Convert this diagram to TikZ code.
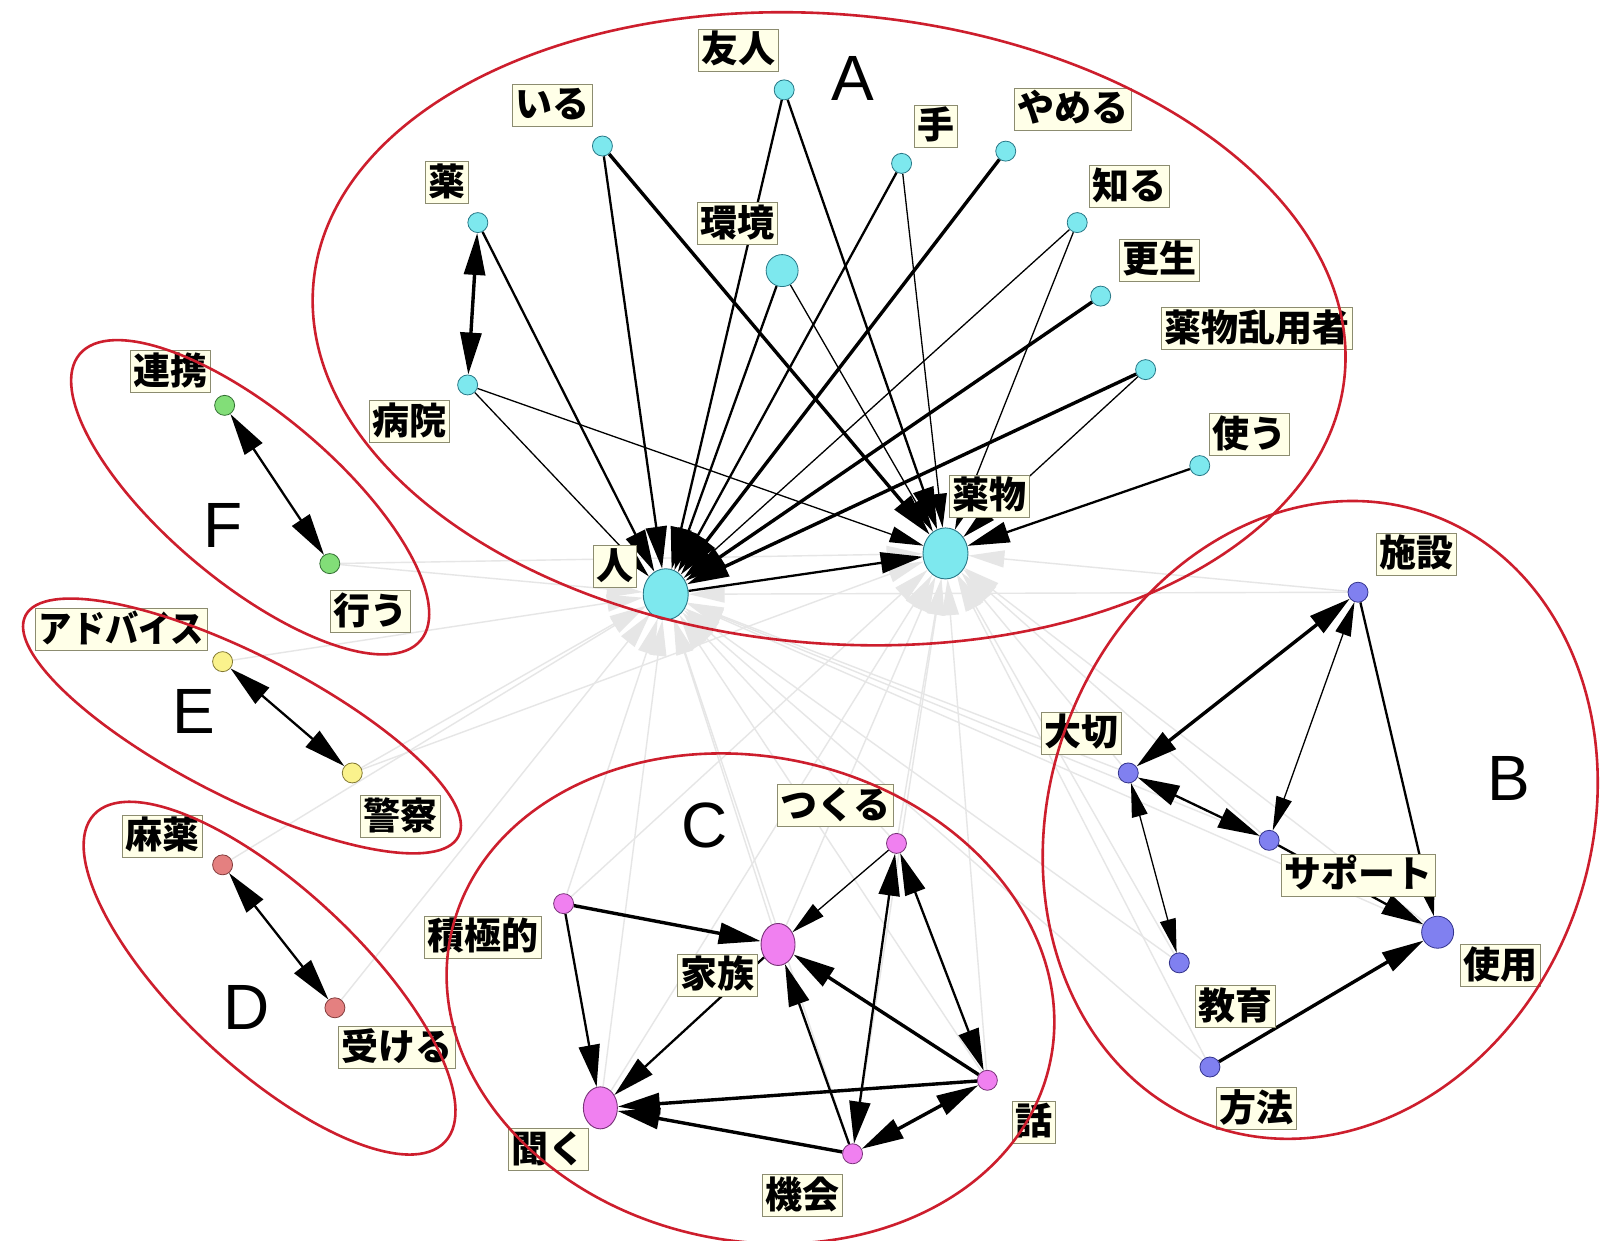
\documentclass[tikz,border=0pt]{standalone}
\usepackage{fontspec}
\setmainfont{Liberation Sans}
\newfontfamily\jp{Noto Sans CJK JP}
\usetikzlibrary{arrows.meta,shapes.geometric}

\pgfdeclarelayer{paper}
\pgfdeclarelayer{faint}
\pgfdeclarelayer{links}
\pgfdeclarelayer{rings}
\pgfsetlayers{paper,faint,links,main,rings}

\definecolor{ringred}{RGB}{205,30,45}
\definecolor{faintgray}{RGB}{230,230,230}
\definecolor{tagfill}{RGB}{255,255,232}
\definecolor{tagline}{RGB}{140,140,112}
\definecolor{cyanfill}{RGB}{125,232,238}
\definecolor{cyanline}{RGB}{40,120,135}
\definecolor{bluefill}{RGB}{128,128,240}
\definecolor{blueline}{RGB}{50,50,140}
\definecolor{pinkfill}{RGB}{240,128,240}
\definecolor{pinkline}{RGB}{120,50,120}
\definecolor{salmfill}{RGB}{228,128,128}
\definecolor{salmline}{RGB}{130,60,60}
\definecolor{yelfill}{RGB}{250,242,140}
\definecolor{yelline}{RGB}{130,120,50}
\definecolor{grnfill}{RGB}{130,222,120}
\definecolor{grnline}{RGB}{50,110,50}

\begin{document}
\begin{tikzpicture}[x=1.0211pt,y=-1.0211pt,
  vtx/.style={circle,inner sep=0pt,minimum size=20pt,line width=0.8pt},
  bigvtx/.style={ellipse,inner sep=0pt,minimum width=45pt,minimum height=51pt,line width=0.9pt},
  midvtx/.style={ellipse,inner sep=0pt,minimum width=34pt,minimum height=42pt,line width=0.9pt},
  va/.style={vtx,fill=cyanfill,draw=cyanline},
  vb/.style={vtx,fill=bluefill,draw=blueline},
  vc/.style={vtx,fill=pinkfill,draw=pinkline},
  vd/.style={vtx,fill=salmfill,draw=salmline},
  ve/.style={vtx,fill=yelfill,draw=yelline},
  vf/.style={vtx,fill=grnfill,draw=grnline},
  tag/.style={draw=tagline,fill=tagfill,line width=1pt,inner xsep=3pt,inner ysep=2.5pt,
    font=\jp\bfseries\fontsize{37}{37}\selectfont,text height=31pt,text depth=6pt},
  grp/.style={font=\fontsize{64}{64}\selectfont,inner sep=0pt},
  ring/.style={draw=ringred,line width=2.6pt},
  wthin/.style={draw=black,line width=1.3pt},
  wmid/.style={draw=black,line width=2.3pt},
  wthick/.style={draw=black,line width=3.4pt},
  arw/.style={-{Triangle[length=42pt,width=21pt]}},
  arws/.style={-{Triangle[length=34pt,width=16pt]}},
  arw2/.style={{Triangle[length=42pt,width=21pt]}-{Triangle[length=42pt,width=21pt]}},
  arw2s/.style={{Triangle[length=34pt,width=16pt]}-{Triangle[length=34pt,width=16pt]}},
  fedge/.style={draw=faintgray,line width=1.4pt,-{Triangle[length=36pt,width=17pt]}}
]
\useasboundingbox (0,0) rectangle (1568,1215);
\begin{pgfonlayer}{paper}
\fill[white] (0,0) rectangle (1568,1215);
\end{pgfonlayer}

% ---- cluster A: vertices ----
\node[va] (yujin) at (768,88) {};
\node[va] (iru) at (590,143) {};
\node[va] (kusuri) at (468,218) {};
\node[va,minimum size=32pt] (kankyo) at (766,265) {};
\node[va] (byoin) at (458,377) {};
\node[va] (te) at (883,160) {};
\node[va] (yameru) at (985,148) {};
\node[va] (shiru) at (1055,218) {};
\node[va] (kosei) at (1078,290) {};
\node[va] (ranyo) at (1122,362) {};
\node[va] (tsukau) at (1175,456) {};
\node[bigvtx,fill=cyanfill,draw=cyanline] (hito) at (652,582) {};
\node[bigvtx,fill=cyanfill,draw=cyanline] (yakubutsu) at (926,542) {};

% ---- cluster B ----
\node[vb] (shisetsu) at (1330,580) {};
\node[vb] (taisetsu) at (1105,757) {};
\node[vb] (support) at (1243,823) {};
\node[vb,minimum size=32pt] (shiyo) at (1408,913) {};
\node[vb] (kyoiku) at (1155,943) {};
\node[vb] (hoho) at (1185,1045) {};

% ---- cluster C ----
\node[vc] (tsukuru) at (878,826) {};
\node[vc] (sekkyoku) at (552,885) {};
\node[midvtx,fill=pinkfill,draw=pinkline] (kazoku) at (762,925) {};
\node[midvtx,fill=pinkfill,draw=pinkline] (kiku) at (588,1085) {};
\node[vc] (hanashi) at (967,1058) {};
\node[vc] (kikai) at (835,1130) {};

% ---- clusters D, E, F ----
\node[vd] (mayaku) at (218,847) {};
\node[vd] (ukeru) at (328,987) {};
\node[ve] (advice) at (218,648) {};
\node[ve] (keisatsu) at (345,757) {};
\node[vf] (renkei) at (220,397) {};
\node[vf] (okonau) at (323,552) {};

% ---- faint links into the two hubs ----
\begin{pgfonlayer}{faint}
\foreach \s in {kiku,kazoku,sekkyoku,kikai,hanashi,tsukuru,taisetsu,support,kyoiku,hoho,shiyo,shisetsu,keisatsu,ukeru,okonau,mayaku,advice}
  \draw[fedge] (\s) -- (hito);
\foreach \s in {kiku,kazoku,kikai,hanashi,tsukuru,taisetsu,support,shisetsu,shiyo,kyoiku,hoho,sekkyoku,okonau,keisatsu}
  \draw[fedge] (\s) -- (yakubutsu);
\end{pgfonlayer}

% ---- black links ----
\begin{pgfonlayer}{links}
% A
\draw[wthick,arw2] (kusuri) -- (byoin);
\draw[wmid,arw] (kusuri) -- (hito);
\draw[wthin,arws] (byoin) -- (hito);
\draw[wthin,arws] (byoin) -- (yakubutsu);
\draw[wmid,arw] (iru) -- (hito);
\draw[wthick,arw] (iru) -- (yakubutsu);
\draw[wmid,arw] (yujin) -- (hito);
\draw[wmid,arw] (yujin) -- (yakubutsu);
\draw[wmid,arw] (kankyo) -- (hito);
\draw[wthin,arws] (kankyo) -- (yakubutsu);
\draw[wmid,arw] (te) -- (hito);
\draw[wthin,arws] (te) -- (yakubutsu);
\draw[wthick,arw] (yameru) -- (hito);
\draw[wthin,arws] (shiru) -- (hito);
\draw[wthin,arws] (shiru) -- (yakubutsu);
\draw[wthick,arw] (kosei) -- (hito);
\draw[wthick,arw] (ranyo) -- (hito);
\draw[wthin,arws] (ranyo) -- (yakubutsu);
\draw[wmid,arw] (tsukau) -- (yakubutsu);
\draw[wmid,arw] (hito) -- (yakubutsu);
% B
\draw[wthick,arw2] (shisetsu) -- (taisetsu);
\draw[wthin,arw2s] (shisetsu) -- (support);
\draw[wmid,arw] (shisetsu) -- (shiyo);
\draw[wmid,arw2] (taisetsu) -- (support);
\draw[wthin,arw2s] (taisetsu) -- (kyoiku);
\draw[wmid,arw] (support) -- (shiyo);
\draw[wthick,arw] (hoho) -- (shiyo);
% C
\draw[wthick,arw] (sekkyoku) -- (kazoku);
\draw[wmid,arw] (sekkyoku) -- (kiku);
\draw[wthin,arws] (tsukuru) -- (kazoku);
\draw[wmid,arw] (kazoku) -- (kiku);
\draw[wthick,arw] (hanashi) -- (kazoku);
\draw[wmid,arw] (kikai) -- (kazoku);
\draw[wthick,arw] (hanashi) -- (kiku);
\draw[wthick,arw] (kikai) -- (kiku);
\draw[wthick,arw2] (kikai) -- (hanashi);
\draw[wmid,arw2] (tsukuru) -- (kikai);
\draw[wmid,arw2] (tsukuru) -- (hanashi);
% D, E, F
\draw[wmid,arw2] (mayaku) -- (ukeru);
\draw[wmid,arw2] (advice) -- (keisatsu);
\draw[wmid,arw2] (renkei) -- (okonau);
\end{pgfonlayer}

% ---- word tags ----
\node[tag] (t-yujin) at (723.5,49) {友人};
\node[tag] (t-iru) at (541.5,103) {いる};
\node[tag] (t-kusuri) at (437.5,179) {薬};
\node[tag] (t-kankyo) at (722.5,219) {環境};
\node[tag] (t-byoin) at (401.5,413) {病院};
\node[tag] (t-te) at (916.5,123.5) {手};
\node[tag] (t-yameru) at (1051,107) {やめる};
\node[tag] (t-shiru) at (1106,183) {知る};
\node[tag] (t-kosei) at (1136,255) {更生};
\node[tag] (t-ranyo) at (1231.5,322) {薬物乱用者};
\node[tag] (t-tsukau) at (1224,426) {使う};
\node[tag] (t-hito) at (602,555) {人};
\node[tag] (t-yakubutsu) at (969,486) {薬物};

\node[tag] (t-shisetsu) at (1387.5,543) {施設};
\node[tag] (t-taisetsu) at (1059,718) {大切};
\node[tag] (t-support) at (1330,857) {サポート};
\node[tag] (t-shiyo) at (1470,946) {使用};
\node[tag] (t-kyoiku) at (1210,986) {教育};
\node[tag] (t-hoho) at (1231,1086) {方法};

\node[tag] (t-tsukuru) at (818,789) {つくる};
\node[tag] (t-sekkyoku) at (473,918) {積極的};
\node[tag] (t-kazoku) at (703,955) {家族};
\node[tag] (t-kiku) at (537.5,1126) {聞く};
\node[tag] (t-hanashi) at (1012.5,1099) {話};
\node[tag] (t-kikai) at (786,1171) {機会};

\node[tag] (t-mayaku) at (159,819) {麻薬};
\node[tag] (t-ukeru) at (388.5,1026) {受ける};
\node[tag] (t-advice) at (119,617) {\scalebox{0.9}[1]{アドバイス}};
\node[tag] (t-keisatsu) at (392.5,800) {警察};
\node[tag] (t-renkei) at (167,364) {連携};
\node[tag] (t-okonau) at (363,599) {行う};

% ---- cluster letters ----
\node[grp] (gA) at (835,77) {A};
\node[grp] (gB) at (1478,762) {B};
\node[grp] (gC) at (690,808) {C};
\node[grp] (gD) at (242,987) {D};
\node[grp] (gE) at (190,697) {E};
\node[grp] (gF) at (218,515) {F};

% ---- cluster outlines ----
\begin{pgfonlayer}{rings}
\draw[ring,rotate around={-5:(812,322)}] (812,322) ellipse [x radius=507,y radius=308];
\draw[ring,rotate around={-20:(1293,803)}] (1293,803) ellipse [x radius=265,y radius=318];
\draw[ring,rotate around={-12:(735,978)}] (735,978) ellipse [x radius=300,y radius=237];
\draw[ring,rotate around={-43:(264,958)}] (264,958) ellipse [x radius=235,y radius=88];
\draw[ring,rotate around={-27:(237,711)}] (237,711) ellipse [x radius=238,y radius=70];
\draw[ring,rotate around={-40:(245,487)}] (245,487) ellipse [x radius=218,y radius=83];
\end{pgfonlayer}
\end{tikzpicture}
\end{document}
